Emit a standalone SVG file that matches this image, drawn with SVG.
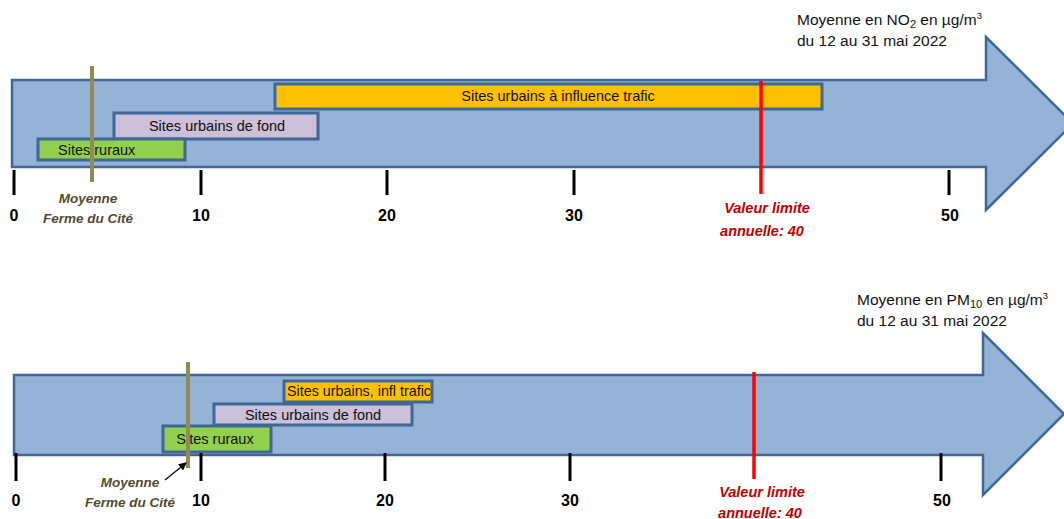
<svg xmlns="http://www.w3.org/2000/svg" width="1064" height="519" viewBox="0 0 1064 519">
<style>
.arrow{fill:#95b3d7;stroke:#3f6797;stroke-width:2.5}
.box{stroke:#3f6797;stroke-width:3}
.green{fill:#92d050}.purple{fill:#ccc0da}.orange{fill:#ffc000}
.bt{font-family:"Liberation Sans",Arial,sans-serif;font-size:14.5px;fill:#111}
.tick{stroke:#000;stroke-width:3}
.num{font-family:"Liberation Sans",Arial,sans-serif;font-size:16px;font-weight:bold;fill:#000;text-anchor:middle}
.olive{stroke:#948a54;stroke-width:4}
.red{stroke:#ff0000;stroke-width:3.5}
.ol{font-family:"Liberation Sans",Arial,sans-serif;font-size:13.5px;font-weight:bold;font-style:italic;fill:#4f4b30;text-anchor:middle}
.rl{font-family:"Liberation Sans",Arial,sans-serif;font-size:14.5px;font-weight:bold;font-style:italic;fill:#c00000;text-anchor:middle}
.title{font-family:"Liberation Sans",Arial,sans-serif;font-size:15.5px;fill:#111}
</style>
<defs>
<marker id="ah" markerWidth="8" markerHeight="8" refX="7" refY="4" orient="auto" markerUnits="userSpaceOnUse"><path d="M0,0 L8,4 L0,8 Z" fill="#000"/></marker>
</defs>

<!-- Top chart: NO2 -->
<g id="no2-arrow"><path class="arrow" d="M12,80 H986 V37 L1073,123.5 L986,210 V167 H12 Z"/></g>
<g id="no2-title">
<text class="title" x="797" y="25">Moyenne en NO<tspan font-size="11" dy="3">2</tspan><tspan dy="-3"> en µg/m</tspan><tspan font-size="9.5" dy="-6">3</tspan></text>
<text class="title" x="797" y="46">du 12 au 31 mai 2022</text>
</g>
<g id="no2-trafic"><rect class="box orange" x="275" y="84" width="547" height="25"/><text class="bt" x="558" y="101" text-anchor="middle">Sites urbains à influence trafic</text></g>
<g id="no2-fond"><rect class="box purple" x="114" y="113" width="204" height="26"/><text class="bt" x="217" y="131" text-anchor="middle">Sites urbains de fond</text></g>
<g id="no2-ruraux"><rect class="box green" x="38" y="139" width="147" height="21"/><text class="bt" x="58" y="155">Sites ruraux</text></g>
<g id="no2-ferme"><line class="olive" x1="92" y1="66" x2="92" y2="182"/><text class="ol" x="88" y="203">Moyenne</text><text class="ol" x="88" y="223">Ferme du Cité</text></g>
<g id="no2-limite"><line class="red" x1="761" y1="81" x2="761" y2="194"/><text class="rl" x="767" y="213">Valeur limite</text><text class="rl" x="762" y="236">annuelle: 40</text></g>
<g id="no2-axis">
<line class="tick" x1="14" y1="170" x2="14" y2="195"/>
<line class="tick" x1="201" y1="170" x2="201" y2="195"/>
<line class="tick" x1="387" y1="170" x2="387" y2="195"/>
<line class="tick" x1="574" y1="170" x2="574" y2="195"/>
<line class="tick" x1="949" y1="170" x2="949" y2="195"/>
<text class="num" x="14" y="221">0</text>
<text class="num" x="201" y="221">10</text>
<text class="num" x="387" y="221">20</text>
<text class="num" x="574" y="221">30</text>
<text class="num" x="950" y="221">50</text>
</g>

<!-- Bottom chart: PM10 -->
<g id="pm10-arrow"><path class="arrow" d="M14,375 H983 V333 L1064,414 L983,495 V455 H14 Z"/></g>
<g id="pm10-title">
<text class="title" x="857" y="305">Moyenne en PM<tspan font-size="11" dy="3">10</tspan><tspan dy="-3"> en µg/m</tspan><tspan font-size="9.5" dy="-6">3</tspan></text>
<text class="title" x="857" y="326">du 12 au 31 mai 2022</text>
</g>
<g id="pm10-trafic"><rect class="box orange" x="284" y="381" width="148" height="21"/><text class="bt" x="287" y="396" textLength="144" lengthAdjust="spacingAndGlyphs">Sites urbains, infl trafic</text></g>
<g id="pm10-fond"><rect class="box purple" x="214" y="404" width="198" height="21"/><text class="bt" x="313" y="420" text-anchor="middle">Sites urbains de fond</text></g>
<g id="pm10-ruraux"><rect class="box green" x="163" y="426" width="108" height="26"/><text class="bt" x="215" y="444" text-anchor="middle">Sites ruraux</text></g>
<g id="pm10-ferme"><line class="olive" x1="188" y1="362" x2="188" y2="468"/><text class="ol" x="130" y="487">Moyenne</text><text class="ol" x="130" y="507">Ferme du Cité</text></g>
<g id="pm10-limite"><line class="red" x1="754" y1="372" x2="754" y2="479"/><text class="rl" x="762" y="497">Valeur limite</text><text class="rl" x="760" y="518">annuelle: 40</text></g>
<g id="pm10-axis">
<line class="tick" x1="16" y1="453" x2="16" y2="481"/>
<line class="tick" x1="201" y1="453" x2="201" y2="481"/>
<line class="tick" x1="385" y1="453" x2="385" y2="481"/>
<line class="tick" x1="570" y1="453" x2="570" y2="481"/>
<line class="tick" x1="941" y1="453" x2="941" y2="481"/>
<text class="num" x="16" y="506">0</text>
<text class="num" x="201" y="506">10</text>
<text class="num" x="385" y="506">20</text>
<text class="num" x="570" y="506">30</text>
<text class="num" x="942" y="506">50</text>
</g>

<g id="connectors">
<line x1="165" y1="480" x2="186" y2="463" stroke="#000" stroke-width="1.2" marker-end="url(#ah)"/>
</g>
</svg>
